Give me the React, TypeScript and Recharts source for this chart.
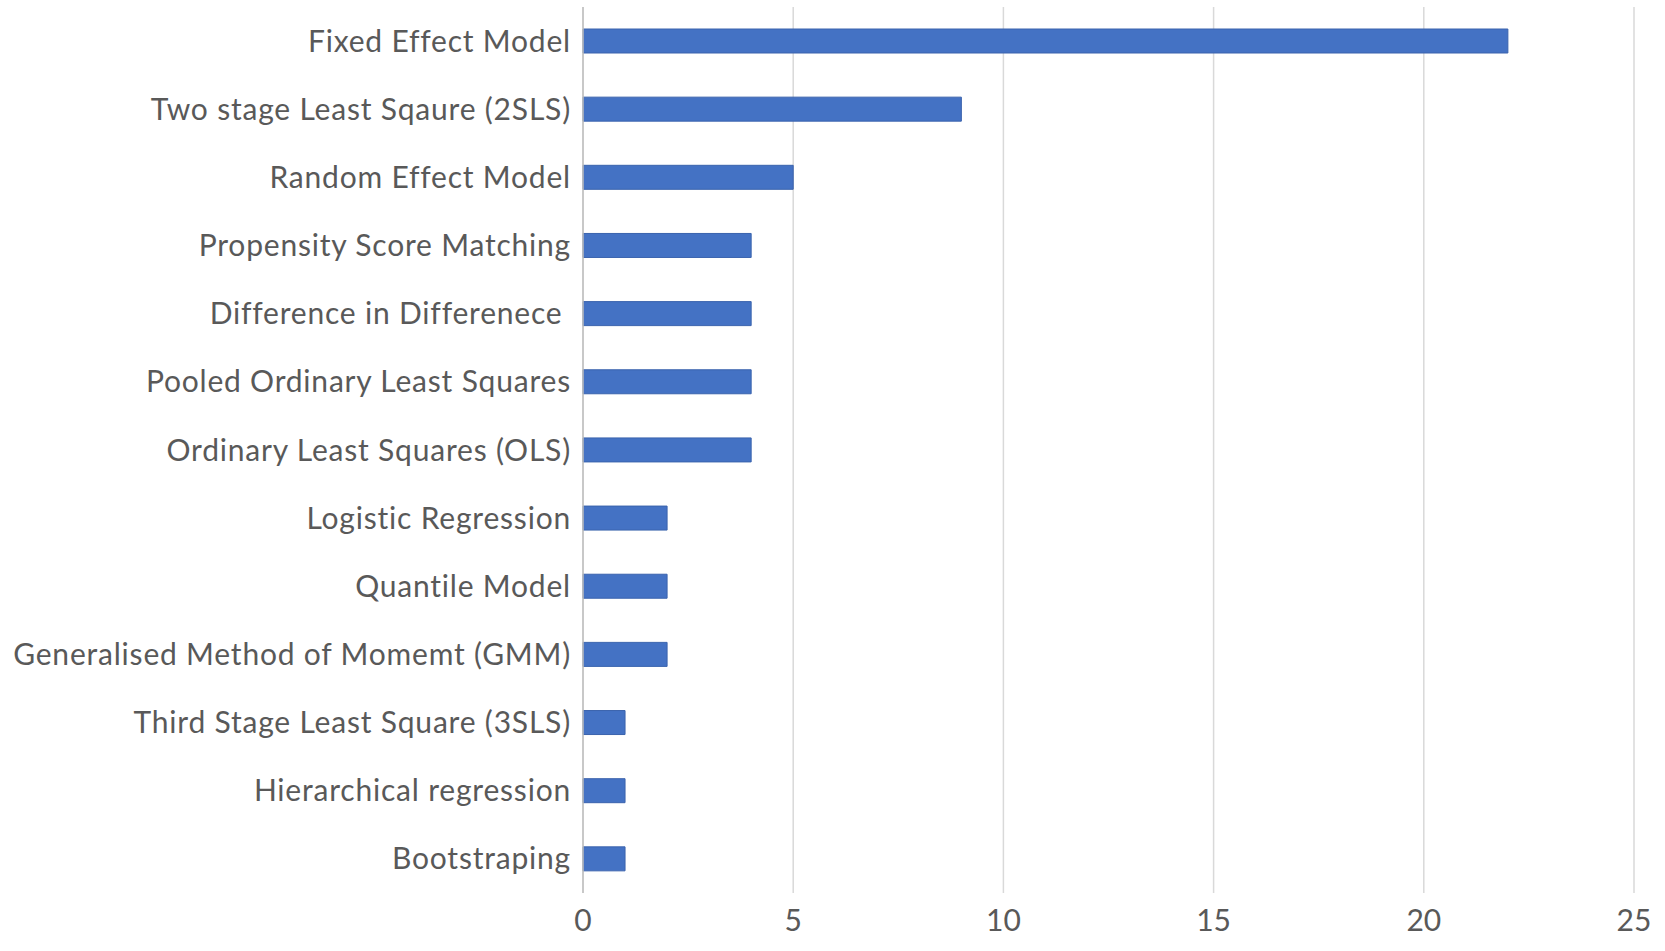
import { BarChart, Bar, XAxis, YAxis, CartesianGrid } from 'recharts';

// Estimation methods and how many studies used each one
const methods = [
  'Fixed Effect Model',
  'Two stage Least Sqaure (2SLS)',
  'Random Effect Model',
  'Propensity Score Matching',
  'Difference in Differenece ',
  'Pooled Ordinary Least Squares',
  'Ordinary Least Squares (OLS)',
  'Logistic Regression',
  'Quantile Model',
  'Generalised Method of Momemt (GMM)',
  'Third Stage Least Square (3SLS)',
  'Hierarchical regression',
  'Bootstraping',
];
const counts = [22, 9, 5, 4, 4, 4, 4, 2, 2, 2, 1, 1, 1];
const xTicks = [0, 5, 10, 15, 20, 25];

const chartData = methods.map((m, i) => ({ method: m, count: counts[i] }));

const FONT = 'Lato, "Open Sans", sans-serif';

const MethodTick = ({ x, y, payload }: any) => (
  <text
    x={x}
    y={y}
    dy="0.35em"
    textAnchor="end"
    fill="#595959"
    fontSize={30}
    fontFamily={FONT}
    letterSpacing={0.8}
    style={{ whiteSpace: 'pre' }}
  >
    {payload.value}
  </text>
);

export default function App() {
  return (
    <div style={{ position: 'absolute', left: 0, top: 0, background: '#fff' }}>
      <BarChart
        width={1665}
        height={951}
        data={chartData}
        layout="vertical"
        margin={{ top: 7, right: 31, left: 0, bottom: 0 }}
      >
        <CartesianGrid horizontal={false} stroke="#d9d9d9" strokeWidth={1.5} />
        <XAxis
          type="number"
          domain={[0, 25]}
          ticks={xTicks}
          axisLine={false}
          tickLine={false}
          height={58}
          tickMargin={11}
          tick={{ fontSize: 30, fill: '#595959', fontFamily: FONT }}
        />
        <YAxis
          type="category"
          dataKey="method"
          width={583}
          axisLine={{ stroke: '#bfbfbf', strokeWidth: 1.5 }}
          tickLine={false}
          tickMargin={6}
          tick={<MethodTick />}
          interval={0}
        />
        <Bar dataKey="count" fill="#4472C4" stroke="#3a63ad" barSize={24} isAnimationActive={false} />
      </BarChart>
    </div>
  );
}
